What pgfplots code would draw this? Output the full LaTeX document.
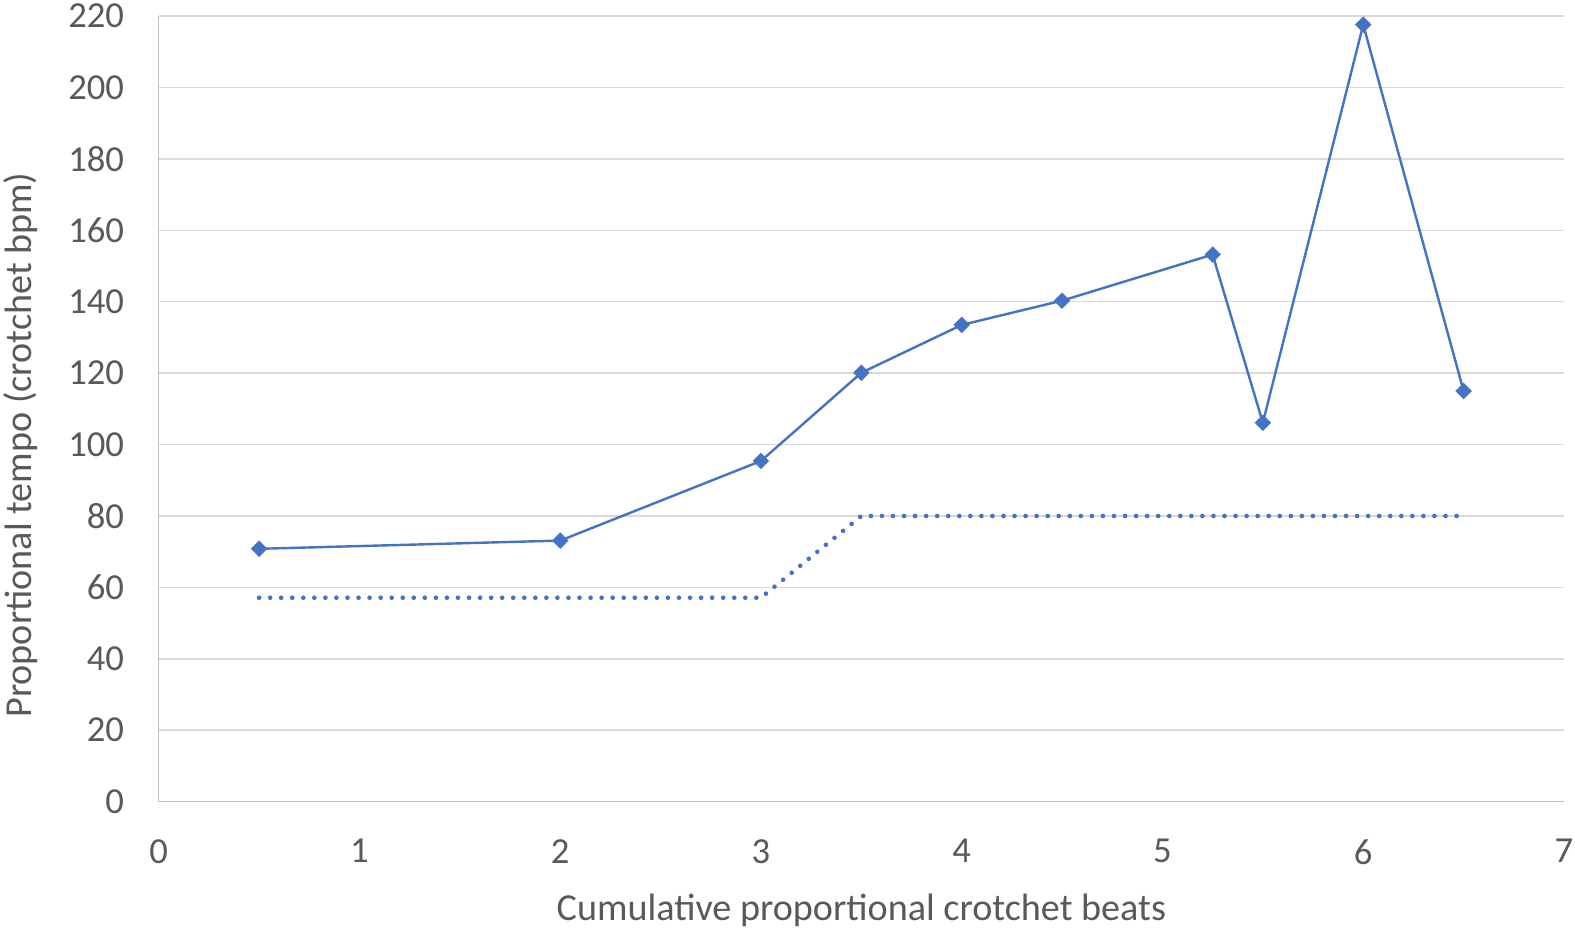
\documentclass[border=0pt]{standalone}
\usepackage{pgfplots}
\pgfplotsset{compat=1.18}
\usepackage{fontspec}
\setmainfont{Carlito}
\definecolor{excelblue}{HTML}{4472C4}
\definecolor{gridgray}{HTML}{D9D9D9}
\definecolor{axisgray}{HTML}{BFBFBF}
\definecolor{textgray}{HTML}{595959}

\begin{document}
\begin{tikzpicture}
\begin{pgfinterruptboundingbox}
\begin{axis}[
    at={(0,0)}, anchor=origin,
    scale only axis,
    width=1399pt, height=782pt,
    xmin=0, xmax=7, ymin=0, ymax=220,
    xtick={0,1,...,7},
    ytick={0,20,...,220},
    ymajorgrids,
    grid style={gridgray, line width=1.5pt},
    axis x line*=bottom,
    axis y line*=left,
    axis line style={axisgray, line width=1.5pt},
    tick style={draw=none},
    every tick label/.style={font=\fontsize{36.5}{44}\selectfont, text=textgray},
    /pgf/number format/assume math mode=true,
    xticklabel style={yshift=-34pt},
    yticklabel style={xshift=-31pt},
    xlabel={Cumulative proportional crotchet beats},
    ylabel={Proportional tempo (crotchet bpm)},
    label style={font=\fontsize{38}{46}\selectfont, text=textgray},
    xlabel style={at={(axis description cs:0.5,0)}, anchor=base, yshift=-118pt, inner sep=0pt},
    ylabel style={at={(axis description cs:0,0.454)}, anchor=north, yshift=155pt, inner sep=0pt},
    clip=false,
]
\addplot[excelblue, line width=2.4pt, mark=square*, mark size=4.6pt,
    mark options={rotate=45, solid}] coordinates {
    (0.5, 70.8)
    (2, 73.1)
    (3, 95.4)
    (3.5, 120.1)
    (4, 133.5)
    (4.5, 140.3)
    (5.25, 153.2)
    (5.5, 106.1)
    (6, 217.6)
    (6.5, 115.0)
};
\addplot[excelblue, line width=4.6pt, line cap=round, dash pattern=on 0pt off 11pt] coordinates {
    (0.5, 57.1)
    (3, 57.1)
    (3.5, 80)
    (6.5, 80)
};
\end{axis}
\end{pgfinterruptboundingbox}
\path[use as bounding box] (-158pt,-126.8pt) rectangle (1409.9pt,798pt);
\end{tikzpicture}
\end{document}
